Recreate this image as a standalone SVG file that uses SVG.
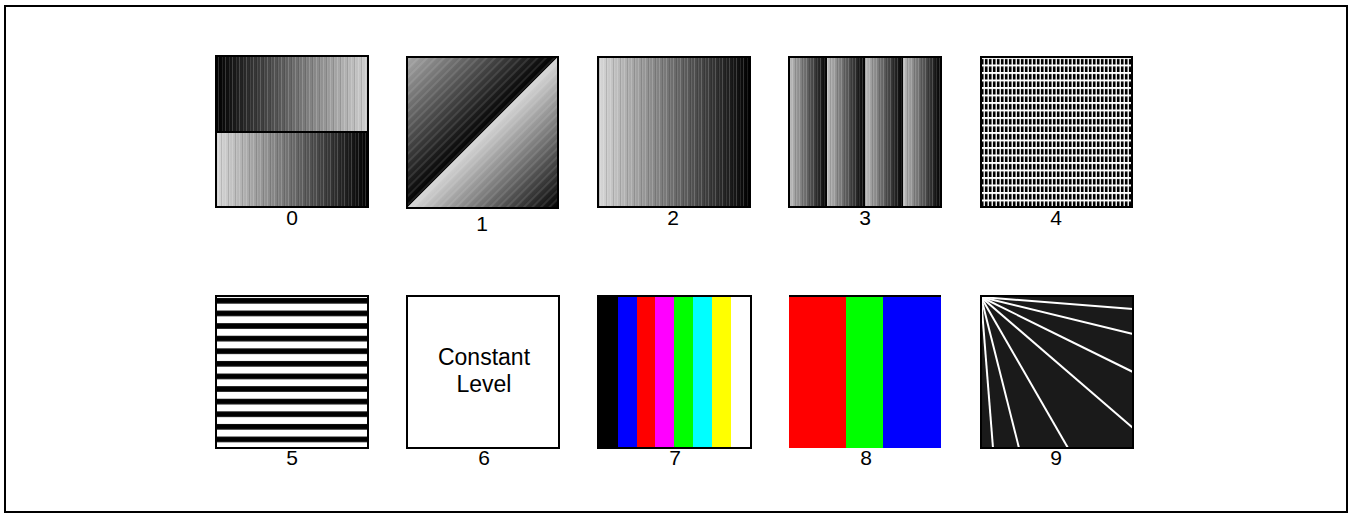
<svg xmlns="http://www.w3.org/2000/svg" width="1353" height="519" viewBox="0 0 1353 519">
<style>
.frame{fill:none;stroke:#000;stroke-width:2}
.tb{fill:none;stroke:#000;stroke-width:2}
.lbl{font-family:"Liberation Sans",Arial,sans-serif;font-size:21px;fill:#000;text-anchor:middle}
.ct{font-family:"Liberation Sans",Arial,sans-serif;font-size:23px;fill:#000;text-anchor:middle}
.ray{stroke:#fff;stroke-width:2;fill:none}
</style>
<defs>
<linearGradient id="gUp" x1="0" y1="0" x2="1" y2="0">
<stop offset="0" stop-color="#000"/><stop offset="1" stop-color="#d0d0d0"/>
</linearGradient>
<linearGradient id="gDown" x1="0" y1="0" x2="1" y2="0">
<stop offset="0" stop-color="#d8d8d8"/><stop offset="1" stop-color="#000"/>
</linearGradient>
<linearGradient id="gTri1" gradientUnits="userSpaceOnUse" x1="407" y1="57" x2="482.5" y2="132.5">
<stop offset="0" stop-color="#a8a8a8"/><stop offset="1" stop-color="#000"/>
</linearGradient>
<linearGradient id="gTri2" gradientUnits="userSpaceOnUse" x1="482.5" y1="132.5" x2="558" y2="208">
<stop offset="0" stop-color="#d8d8d8"/><stop offset="1" stop-color="#000"/>
</linearGradient>
<linearGradient id="gBand" x1="0" y1="0" x2="1" y2="0">
<stop offset="0" stop-color="#c0c0c0"/><stop offset="0.85" stop-color="#1a1a1a"/><stop offset="1" stop-color="#000"/>
</linearGradient>
<pattern id="vstripe" width="7" height="10" patternUnits="userSpaceOnUse">
<rect x="1" y="0" width="1" height="10" fill="#fff" opacity="0.18"/>
<rect x="4" y="0" width="1" height="10" fill="#000" opacity="0.12"/>
<rect x="5" y="0" width="1" height="10" fill="#fff" opacity="0.1"/>
</pattern>
<pattern id="dstripe" width="6" height="6" patternUnits="userSpaceOnUse" patternTransform="rotate(-45)">
<rect x="0" y="0" width="6" height="2" fill="#fff" opacity="0.1"/>
</pattern>
<pattern id="grid" x="981" y="57" width="4" height="7.5" patternUnits="userSpaceOnUse">
<rect x="0" y="0" width="4" height="7.5" fill="#fff"/>
<rect x="0" y="2" width="2.6" height="5.5" fill="#000"/>
<rect x="2.6" y="2" width="0.6" height="5.5" fill="#888"/>
</pattern>
<pattern id="hstripe" x="216" y="296" width="152" height="12.6" patternUnits="userSpaceOnUse">
<rect x="0" y="0" width="152" height="12.6" fill="#fff"/>
<rect x="0" y="2" width="152" height="5.6" fill="#000"/>
</pattern>
</defs>
<rect class="frame" x="5" y="6" width="1342" height="506"/>

<g id="tile0">
<rect x="216" y="56" width="152" height="76" fill="url(#gUp)"/>
<rect x="216" y="132" width="152" height="75" fill="url(#gDown)"/>
<rect x="216" y="56" width="152" height="151" fill="url(#vstripe)"/>
<line x1="216" y1="132" x2="368" y2="132" stroke="#000" stroke-width="2"/>
<rect class="tb" x="216" y="56" width="152" height="151"/>
<text class="lbl" x="292" y="225">0</text>
</g>

<g id="tile1">
<polygon points="407,57 558,57 407,208" fill="url(#gTri1)"/>
<polygon points="558,57 558,208 407,208" fill="url(#gTri2)"/>
<rect x="407" y="57" width="151" height="151" fill="url(#dstripe)"/>
<rect class="tb" x="407" y="57" width="151" height="151"/>
<text class="lbl" x="482" y="231">1</text>
</g>

<g id="tile2">
<rect x="598" y="57" width="152" height="150" fill="url(#gDown)"/>
<rect x="598" y="57" width="152" height="150" fill="url(#vstripe)"/>
<rect class="tb" x="598" y="57" width="152" height="150"/>
<text class="lbl" x="673" y="225">2</text>
</g>

<g id="tile3">
<rect x="789" y="57" width="38" height="150" fill="url(#gBand)"/>
<rect x="827" y="57" width="38" height="150" fill="url(#gBand)"/>
<rect x="865" y="57" width="38" height="150" fill="url(#gBand)"/>
<rect x="903" y="57" width="38" height="150" fill="url(#gBand)"/>
<rect x="789" y="57" width="152" height="150" fill="url(#vstripe)"/>
<rect class="tb" x="789" y="57" width="152" height="150"/>
<text class="lbl" x="865" y="225">3</text>
</g>

<g id="tile4">
<rect x="981" y="57" width="151" height="150" fill="url(#grid)"/>
<rect class="tb" x="981" y="57" width="151" height="150"/>
<text class="lbl" x="1056" y="225">4</text>
</g>

<g id="tile5">
<rect x="216" y="296" width="152" height="152" fill="url(#hstripe)"/>
<rect class="tb" x="216" y="296" width="152" height="152"/>
<text class="lbl" x="292" y="465">5</text>
</g>

<g id="tile6">
<rect x="407" y="296" width="152" height="152" fill="#fff"/>
<rect class="tb" x="407" y="296" width="152" height="152"/>
<text class="ct" x="484" y="365">Constant</text>
<text class="ct" x="484" y="392">Level</text>
<text class="lbl" x="484" y="465">6</text>
</g>

<g id="tile7">
<rect x="598" y="296" width="20" height="152" fill="#000"/>
<rect x="618" y="296" width="19" height="152" fill="#0000ff"/>
<rect x="637" y="296" width="18" height="152" fill="#ff0000"/>
<rect x="655" y="296" width="19" height="152" fill="#ff00ff"/>
<rect x="674" y="296" width="19" height="152" fill="#00ff00"/>
<rect x="693" y="296" width="19" height="152" fill="#00ffff"/>
<rect x="712" y="296" width="19" height="152" fill="#ffff00"/>
<rect x="731" y="296" width="20" height="152" fill="#fff"/>
<rect class="tb" x="598" y="296" width="153" height="152"/>
<text class="lbl" x="675" y="465">7</text>
</g>

<g id="tile8">
<rect x="789" y="296" width="57" height="152" fill="#ff0000"/>
<rect x="846" y="296" width="37" height="152" fill="#00ff00"/>
<rect x="883" y="296" width="58" height="152" fill="#0000ff"/>
<line x1="789" y1="296" x2="941" y2="296" stroke="#000" stroke-width="2"/>
<text class="lbl" x="866" y="465">8</text>
</g>

<g id="tile9">
<rect x="981" y="296" width="152" height="152" fill="#1a1a1a"/>
<line class="ray" x1="981" y1="297" x2="1133" y2="309"/>
<line class="ray" x1="981" y1="297" x2="1133" y2="334"/>
<line class="ray" x1="981" y1="297" x2="1133" y2="372"/>
<line class="ray" x1="981" y1="297" x2="1133" y2="428"/>
<line class="ray" x1="981" y1="297" x2="1068" y2="448"/>
<line class="ray" x1="981" y1="297" x2="1019" y2="448"/>
<line class="ray" x1="981" y1="297" x2="993" y2="448"/>
<rect class="tb" x="981" y="296" width="152" height="152" stroke="#111"/>
<text class="lbl" x="1056" y="465">9</text>
</g>
</svg>
